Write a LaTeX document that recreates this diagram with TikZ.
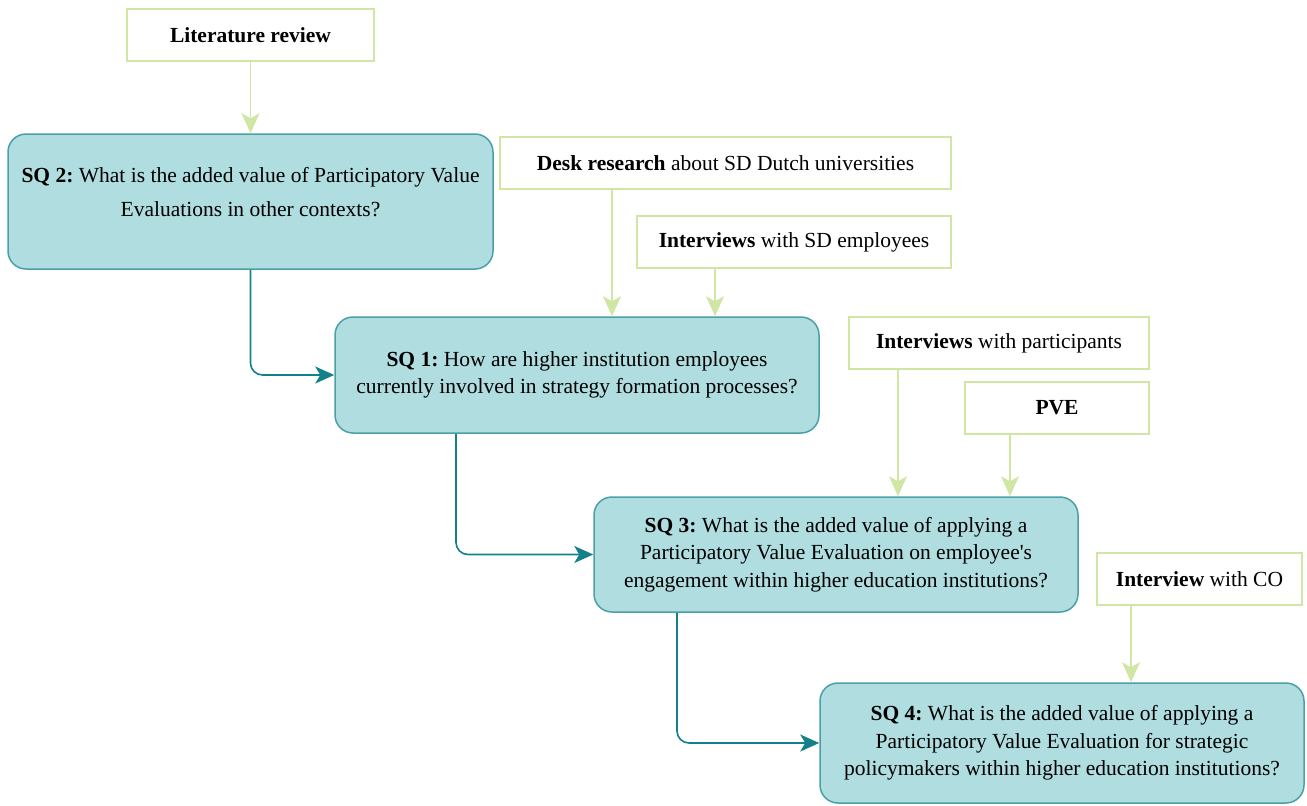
\documentclass[tikz,border=0pt]{standalone}
\usepackage{fontspec}
\setmainfont{Liberation Serif}
\usetikzlibrary{arrows.meta}
\frenchspacing

\definecolor{sqfill}{RGB}{176,221,224}
\definecolor{sqline}{RGB}{74,160,168}
\definecolor{flow}{RGB}{20,128,138}
\definecolor{srcline}{RGB}{208,230,164}

\tikzset{
  sqbox/.style={draw=sqline, line width=1.5pt, fill=sqfill, rounded corners=18pt,
    align=center, inner sep=0pt, font=\fontsize{21.5}{27.5}\selectfont},
  sqtext/.style={align=center, inner sep=0pt, font=\fontsize{21.5}{34}\selectfont},
  srcbox/.style={draw=srcline, line width=1.8pt, fill=white, align=center,
    inner sep=0pt, font=\fontsize{21.5}{28}\selectfont},
  feed/.style={draw=srcline, line width=1.8pt,
    -{Stealth[length=20pt,width=18pt,inset=5pt]}},
  flowline/.style={draw=flow, line width=1.6pt, rounded corners=12pt,
    -{Stealth[length=19pt,width=17pt,inset=5pt]}},
}

\begin{document}
\begin{tikzpicture}[x=1pt,y=-1pt]
  \useasboundingbox (0,0) rectangle (1307,806);

  % source boxes
  \node[srcbox, minimum width=247pt, minimum height=52pt] (lit) at (250.5,35) {\textbf{Literature review}};
  \node[srcbox, minimum width=451pt, minimum height=52pt] (desk) at (725.5,163) {\textbf{Desk research} about SD Dutch universities};
  \node[srcbox, minimum width=314pt, minimum height=52pt] (intsd) at (794,242) {\textbf{Interviews} with SD employees};
  \node[srcbox, minimum width=300pt, minimum height=52pt] (intp) at (999,343) {\textbf{Interviews} with participants};
  \node[srcbox, minimum width=184pt, minimum height=52pt] (pve) at (1057,408) {\textbf{PVE}};
  \node[srcbox, minimum width=205pt, minimum height=52pt] (co) at (1199.5,579) {\textbf{Interview} with CO};

  % sub-question boxes
  \node[sqbox, minimum width=485pt, minimum height=135pt] (sq2) at (250.5,201.5) {};
  \node[sqtext, yshift=9pt] (sq2text) at (sq2.center)
    {\textbf{SQ 2:} What is the added value of Participatory Value\\Evaluations in other contexts?};
  \node[sqbox, minimum width=484pt, minimum height=116pt] (sq1) at (577,375)
    {\textbf{SQ 1:} How are higher institution employees\\currently involved in strategy formation processes?};
  \node[sqbox, minimum width=484pt, minimum height=115pt] (sq3) at (836,554.5)
    {\textbf{SQ 3:} What is the added value of applying a\\Participatory Value Evaluation on employee\textquotesingle s\\engagement within higher education institutions?};
  \node[sqbox, minimum width=484pt, minimum height=120pt] (sq4) at (1062,743)
    {\textbf{SQ 4:} What is the added value of applying a\\Participatory Value Evaluation for strategic\\policymakers within higher education institutions?};

  % x positions of the feed lines
  \coordinate (xdesk) at (612,0);
  \coordinate (xintsd) at (715,0);
  \coordinate (xintp) at (898,0);
  \coordinate (xpve) at (1010,0);
  \coordinate (xco) at (1131,0);
  \coordinate (xsq1) at (456,0);
  \coordinate (xsq3) at (677,0);

  % feeds from sources
  \draw[feed] (lit.south) -- (sq2.north);
  \draw[feed] (desk.south -| xdesk) -- (sq1.north -| xdesk);
  \draw[feed] (intsd.south -| xintsd) -- (sq1.north -| xintsd);
  \draw[feed] (intp.south -| xintp) -- (sq3.north -| xintp);
  \draw[feed] (pve.south -| xpve) -- (sq3.north -| xpve);
  \draw[feed] (co.south -| xco) -- (sq4.north -| xco);

  % flow between sub-questions
  \draw[flowline] (sq2.south) |- (sq1.west);
  \draw[flowline] (sq1.south -| xsq1) |- (sq3.west);
  \draw[flowline] (sq3.south -| xsq3) |- (sq4.west);
\end{tikzpicture}
\end{document}
